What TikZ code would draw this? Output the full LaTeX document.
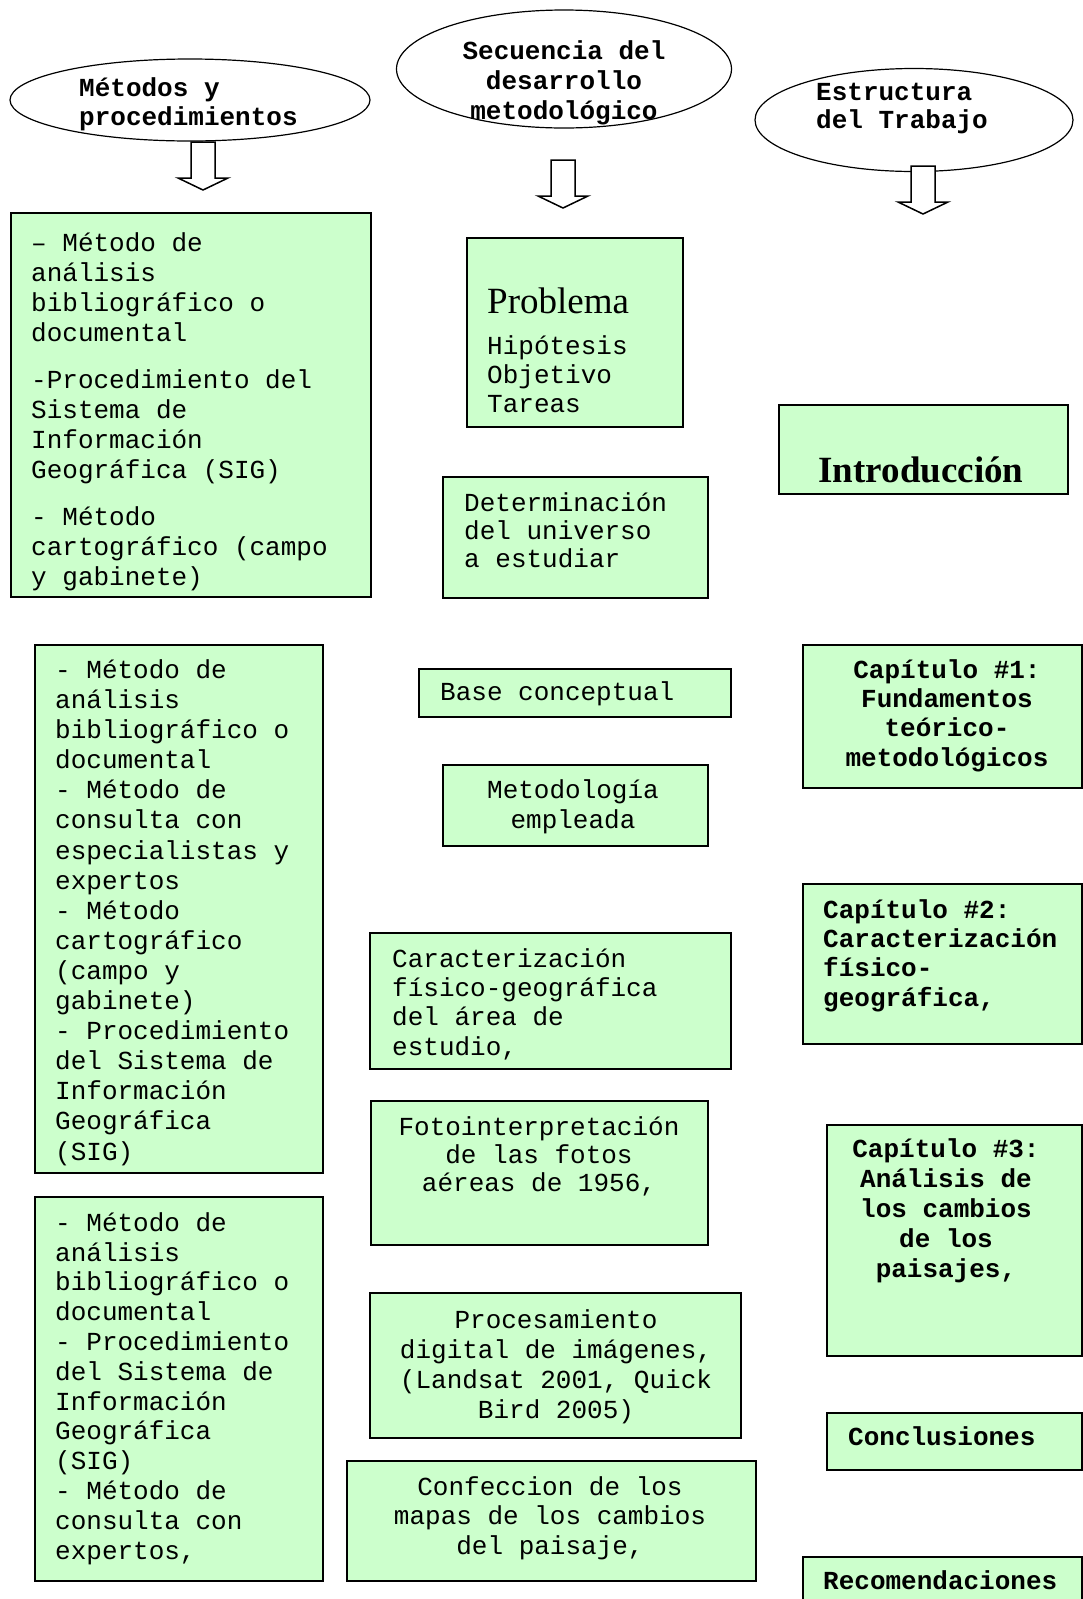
\documentclass[tikz,border=0pt]{standalone}
\usepackage{fontspec}
\setmainfont{Liberation Serif}
\setmonofont{Liberation Mono}
\usetikzlibrary{shapes.geometric}
\definecolor{boxgreen}{RGB}{204, 255, 204}

\newcommand{\boxfont}{\fontsize{26}{30}\selectfont\ttfamily}
\newcommand{\blockdown}[1]{%
  \filldraw[blockarrow] (#1) ++(-12,0) -- ++(0,36) -- ++(-13,0) -- ++(25,12)
    -- ++(25,-12) -- ++(-13,0) -- ++(0,-36) -- cycle;}

% multi-line texts are placed by the baseline of their last line
\tikzset{
  box/.style={fill=boxgreen, draw=black, line width=1.5pt},
  oval/.style={draw=black, ellipse, line width=1.2pt, inner sep=0pt},
  txt/.style={font=\boxfont, align=left, inner sep=0pt, anchor=base west},
  ctxt/.style={txt, align=center, anchor=base},
  btxt/.style={txt, font=\boxfont\bfseries},
  bctxt/.style={ctxt, font=\boxfont\bfseries},
  blockarrow/.style={fill=white, draw=black, line width=1.5pt, line join=miter},
}

\begin{document}
\begin{tikzpicture}[x=1pt, y=-1pt]
        \clip (0,0) rectangle (1083,1599);

        % headings
        \node[oval, minimum width=360pt, minimum height=82pt] (metodos) at (190,100) {};
        \node[oval, minimum width=335pt, minimum height=118pt] (secuencia) at (564,69) {};
        \node[oval, minimum width=318pt, minimum height=103pt] (estructura) at (914,120) {};

        \node[btxt] (metodost) at (79,125) {Métodos y\\[-1pt]procedimientos};
        \node[bctxt] (secuenciat) at (564,119) {Secuencia del\\desarrollo\\metodológico};
        \node[btxt] (estructurat) at (816,128) {Estructura\\[-2pt]del Trabajo};

        \coordinate (flecha1) at (203,142);
        \coordinate (flecha2) at (563,160);
        \coordinate (flecha3) at (923,166);
        \blockdown{flecha1}
        \blockdown{flecha2}
        \blockdown{flecha3}

        % left column
        \filldraw[box] (11,213) rectangle (371,597);
        \node[txt] (met1) at (31,585)
          {– Método de\\análisis\\bibliográfico o\\documental\\[17pt]
           -Procedimiento del\\Sistema de\\Información\\Geográfica (SIG)\\[17pt]
           - Método\\cartográfico (campo\\y gabinete)};

        \filldraw[box] (35,645) rectangle (323,1173);
        \node[txt, font=\fontsize{26}{30.1}\selectfont\ttfamily] (met2) at (55,1160)
          {- Método de\\análisis\\bibliográfico o\\documental\\- Método de\\
           consulta con\\especialistas y\\expertos\\- Método\\cartográfico\\
           (campo y\\gabinete)\\- Procedimiento\\del Sistema de\\Información\\
           Geográfica\\(SIG)};

        \filldraw[box] (35,1197) rectangle (323,1581);
        \node[txt, font=\fontsize{26}{29.8}\selectfont\ttfamily] (met3) at (55,1559)
          {- Método de\\análisis\\bibliográfico o\\documental\\- Procedimiento\\
           del Sistema de\\Información\\Geográfica\\(SIG)\\- Método de\\
           consulta con\\expertos,};

        % middle column
        \filldraw[box] (467,238) rectangle (683,427);
        \node[txt, font=\fontsize{37}{40}\selectfont\rmfamily] (problema) at (487,313) {Problema};
        \node[txt, font=\fontsize{26}{29}\selectfont\ttfamily] (hipotesis) at (487,412)
          {Hipótesis\\Objetivo\\Tareas};

        \filldraw[box] (443,477) rectangle (708,598);
        \node[txt, font=\fontsize{26}{28}\selectfont\ttfamily] (universo) at (464,567)
          {Determinación\\del universo\\a estudiar};

        \filldraw[box] (419,669) rectangle (731,717);
        \node[txt] (base) at (440,700) {Base conceptual};

        \filldraw[box] (443,765) rectangle (708,846);
        \node[ctxt] (metodologia) at (573,828) {Metodología\\empleada};

        \filldraw[box] (370,933) rectangle (731,1069);
        \node[txt, font=\fontsize{26}{29.3}\selectfont\ttfamily] (caract) at (392,1055)
          {Caracterización\\físico-geográfica\\del área de\\estudio,};

        \filldraw[box] (371,1101) rectangle (708,1245);
        \node[ctxt, font=\fontsize{26}{28}\selectfont\ttfamily] (fotos) at (539,1191)
          {Fotointerpretación\\de las fotos\\aéreas de 1956,};

        \filldraw[box] (370,1293) rectangle (741,1438);
        \node[ctxt] (procesa) at (556,1418)
          {Procesamiento\\digital de imágenes,\\(Landsat 2001, Quick\\Bird 2005)};

        \filldraw[box] (347,1461) rectangle (756,1581);
        \node[ctxt, font=\fontsize{26}{29.5}\selectfont\ttfamily] (mapas) at (550,1554)
          {Confeccion de los\\mapas de los cambios\\del paisaje,};

        % right column
        \filldraw[box] (779,405) rectangle (1068,494);
        \node[ctxt, font=\fontsize{37}{40}\selectfont\rmfamily\bfseries] (intro) at (921,482) {Introducción};

        \filldraw[box] (803,645) rectangle (1082,788);
        \node[bctxt, font=\fontsize{26}{29.3}\selectfont\ttfamily\bfseries] (cap1) at (947,766)
          {Capítulo \#1:\\Fundamentos\\teórico-\\metodológicos};

        \filldraw[box] (803,884) rectangle (1082,1044);
        \node[btxt, font=\fontsize{26}{29.3}\selectfont\ttfamily\bfseries] (cap2) at (823,1006)
          {Capítulo \#2:\\Caracterización\\físico-\\geográfica,};

        \filldraw[box] (827,1125) rectangle (1082,1356);
        \node[bctxt] (cap3) at (946,1277)
          {Capítulo \#3:\\Análisis de\\los cambios\\de los\\paisajes,};

        \filldraw[box] (827,1413) rectangle (1082,1470);
        \node[btxt] (conclu) at (848,1445) {Conclusiones};

        \filldraw[box] (803,1557) rectangle (1082,1630);
        \node[btxt] (recom) at (823,1589) {Recomendaciones};
      \end{tikzpicture}
\end{document}
